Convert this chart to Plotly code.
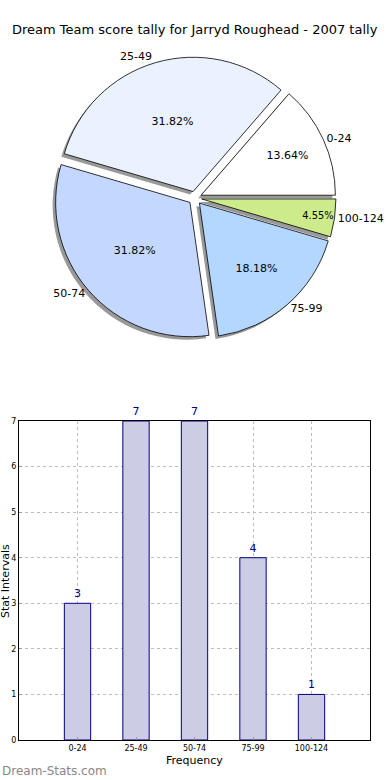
import plotly.graph_objects as go

categories = ["0-24", "25-49", "50-74", "75-99", "100-124"]
counts = [3, 7, 7, 4, 1]
pie_colors = ["#FFFFFF", "#EAF1FF", "#C4D8FF", "#B4D7FF", "#CDEB8B"]
title_text = "Dream Team score tally for Jarryd Roughead - 2007 tally"

W, H = 390, 780
FONT = "DejaVu Sans"

def px_x(x):
    return x / W

def px_y(y):
    return 1 - y / H

total = sum(counts)
first_angle = 360.0 * counts[0] / total
rotation = 90 - first_angle

pull = [0.05] * len(counts)
cx, cy, half = 195, 198, 141
dom_x = [px_x(cx - half), px_x(cx + half)]
dom_y = [px_y(cy + half), px_y(cy - half)]
sh = 3
shadow_dom_x = [px_x(cx - half - sh), px_x(cx + half - sh)]
shadow_dom_y = [px_y(cy + half + sh), px_y(cy - half + sh)]

fig = go.Figure()

common = dict(values=counts, labels=categories, sort=False, direction="counterclockwise",
              rotation=rotation, pull=pull, hoverinfo="skip", showlegend=False,
              automargin=False)

fig.add_trace(go.Pie(**common, domain=dict(x=shadow_dom_x, y=shadow_dom_y),
                     marker=dict(colors=["rgba(0,0,0,0.4)"] * len(counts),
                                 line=dict(width=0)),
                     textinfo="none"))
fig.add_trace(go.Pie(**common, domain=dict(x=dom_x, y=dom_y),
                     marker=dict(colors=pie_colors, line=dict(color="black", width=0.8)),
                     texttemplate="%{percent:.2%}", textposition="inside",
                     insidetextorientation="horizontal",
                     textfont=dict(family=FONT, size=11, color="black")))
fig.add_trace(go.Pie(**common, domain=dict(x=dom_x, y=dom_y),
                     marker=dict(colors=["rgba(0,0,0,0)"] * len(counts),
                                 line=dict(width=0)),
                     texttemplate="%{label}", textposition="outside",
                     outsidetextfont=dict(family=FONT, size=11, color="black")))

fig.add_trace(go.Bar(x=list(range(len(categories))), y=counts, width=0.45,
                     marker=dict(color="#CCCCE5", line=dict(color="#000080", width=1)),
                     text=[str(c) for c in counts], textposition="outside",
                     textfont=dict(family=FONT, size=11, color="#000080"),
                     cliponaxis=False, showlegend=False, hoverinfo="skip",
                     xaxis="x", yaxis="y"))

fig.update_layout(
    width=W, height=H, autosize=False, showlegend=False,
    margin=dict(l=0, r=0, t=0, b=0, pad=0),
    paper_bgcolor="white", plot_bgcolor="white",
    font=dict(family=FONT, color="black"),
    xaxis=dict(domain=[px_x(19), px_x(370)], anchor="y", range=[-1, 5], automargin=False,
               tickvals=list(range(len(categories))), ticktext=categories,
               tickfont=dict(size=8), showline=True, linecolor="black", linewidth=1,
               mirror=True, showgrid=True, gridcolor="#BDBDBD", griddash="dot",
               gridwidth=1, zeroline=False, ticks="inside", ticklen=3, tickcolor="#999"),
    yaxis=dict(domain=[px_y(740), px_y(421)], anchor="x", range=[0, 7], automargin=False,
               tickvals=list(range(8)), tickfont=dict(size=8),
               showline=True, linecolor="black", linewidth=1, mirror=True,
               showgrid=True, gridcolor="#BDBDBD", griddash="dot", gridwidth=1,
               zeroline=False, ticks="inside", ticklen=3, tickcolor="#999"),
    annotations=[
        dict(text=title_text, x=0.5, y=px_y(30), xref="paper", yref="paper",
             xanchor="center", yanchor="middle", showarrow=False,
             font=dict(family=FONT, size=13, color="black")),
        dict(text="Frequency", x=px_x(194), y=px_y(760), xref="paper", yref="paper",
             xanchor="center", yanchor="middle", showarrow=False,
             font=dict(family=FONT, size=11, color="black")),
        dict(text="Stat Intervals", x=px_x(5), y=px_y(581), xref="paper", yref="paper",
             xanchor="center", yanchor="middle", showarrow=False, textangle=-90,
             font=dict(family=FONT, size=11, color="black")),
        dict(text="Dream-Stats.com", x=0, y=px_y(771), xref="paper", yref="paper",
             xanchor="left", yanchor="middle", showarrow=False,
             font=dict(family=FONT, size=12, color="#888888")),
    ],
)

fig.write_html("out.html", config={"displayModeBar": False},
               post_script="document.body.style.margin='0';document.body.style.overflow='hidden';")
